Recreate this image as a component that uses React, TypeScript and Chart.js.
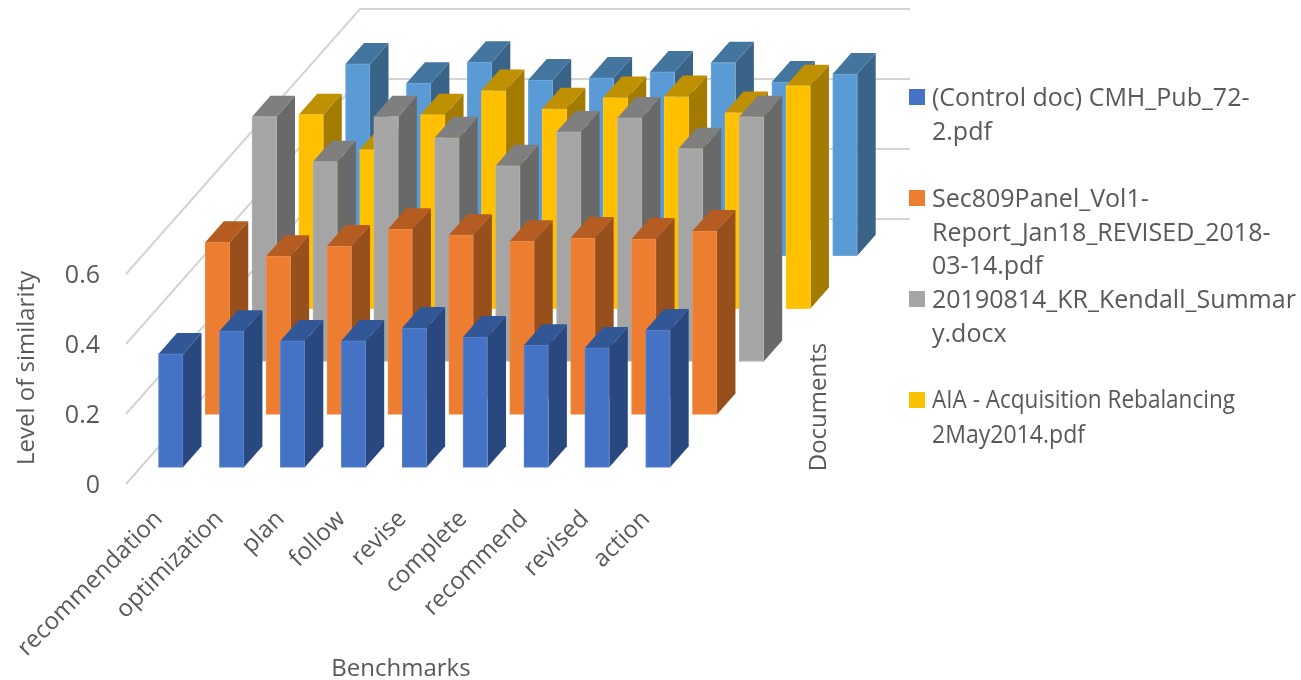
import React, { useEffect, useRef } from "react";
import { Chart, registerables } from "chart.js";

Chart.register(...registerables);

const categories = ["recommendation", "optimization", "plan", "follow", "revise", "complete", "recommend", "revised", "action"];
const controlDoc = [0.324, 0.389, 0.361, 0.361, 0.398, 0.372, 0.349, 0.341, 0.392];
const sec809Panel = [0.492, 0.452, 0.481, 0.529, 0.512, 0.495, 0.504, 0.501, 0.524];
const kendallSummary = [0.699, 0.571, 0.699, 0.639, 0.559, 0.656, 0.696, 0.608, 0.699];
const aiaRebalancing = [0.554, 0.454, 0.554, 0.623, 0.571, 0.603, 0.606, 0.56, 0.637];
const fifthDocument = [0.548, 0.493, 0.553, 0.502, 0.508, 0.525, 0.551, 0.496, 0.519];
const tickValues = [0, 0.2, 0.4, 0.6];

const seriesNames = [
  "(Control doc) CMH_Pub_72-2.pdf",
  "Sec809Panel_Vol1-Report_Jan18_REVISED_2018-03-14.pdf",
  "20190814_KR_Kendall_Summary.docx",
  "AIA - Acquisition Rebalancing 2May2014.pdf",
  "Other document",
];
const seriesValues = [controlDoc, sec809Panel, kendallSummary, aiaRebalancing, fifthDocument];
const frontColors = ["#4472C4", "#ED7D31", "#A5A5A5", "#FFC000", "#5B9BD5"];
const sideColors = ["#2A4880", "#97501C", "#696969", "#A37B00", "#3A6388"];
const topColors = ["#325796", "#B45C22", "#7F7F7F", "#BF9000", "#44759F"];
const edgeColors = ["#5F85CC", "#EF8C4A", "#B2B2B2", "#FFC926", "#72A9DB"];

const legendEntries = [
  { series: 0, swatchTop: 89, lines: ["(Control doc) CMH_Pub_72-", "2.pdf"], lineY: [99, 133], maxWidth: 330 },
  { series: 1, swatchTop: 190, lines: ["Sec809Panel_Vol1-", "Report_Jan18_REVISED_2018-", "03-14.pdf"], lineY: [200, 234, 267], maxWidth: 350 },
  { series: 2, swatchTop: 291, lines: ["20190814_KR_Kendall_Summar", "y.docx"], lineY: [301, 335], maxWidth: 365 },
  { series: 3, swatchTop: 392, lines: ["AIA - Acquisition Rebalancing", "2May2014.pdf"], lineY: [401, 436], maxWidth: 303, narrowSecondLine: 153 },
];

// Oblique projection used for the 3D look, in canvas pixels.
const WIDTH = 1301;
const HEIGHT = 680;
const AREA_LEFT = 126;
const AREA_RIGHT = 910;
const AREA_BOTTOM = 484;
const PX_PER_UNIT = 350;
const PX_PER_CATEGORY = 60.9;
const SERIES_DX = 46.75;
const SERIES_DY = 52.9;
const FIRST_BAR_CENTER = 170.75;
const FRONT_GAP = 16.7;
const BAR_WIDTH = 24.5;
const BAR_DX = 18.5;
const BAR_DY = 21;
const WALL_DX = 234;
const WALL_DY = 265;
const LABEL_TICK_SHIFT = -12;
const TEXT_COLOR = "#595959";
const FONT_FAMILY = '"Open Sans", sans-serif';

const xRange = (AREA_RIGHT - AREA_LEFT) / PX_PER_CATEGORY;
const yRange = AREA_BOTTOM / PX_PER_UNIT;

function depthScales() {
  const scales: Record<string, any> = {};
  seriesValues.forEach((_, k) => {
    const xMin = -(FIRST_BAR_CENTER + SERIES_DX * k - AREA_LEFT) / PX_PER_CATEGORY;
    const yMin = -(FRONT_GAP + SERIES_DY * k) / PX_PER_UNIT;
    scales[`depthX${k}`] = { type: "linear", axis: "x", display: false, offset: false, min: xMin, max: xMin + xRange };
    scales[`depthY${k}`] = { type: "linear", axis: "y", display: false, min: yMin, max: yMin + yRange };
  });
  return scales;
}

// Side walls, gridlines and side/top faces of the bars.
const prismPlugin = {
  id: "prism",
  beforeDatasetsDraw(chart: any) {
    const { ctx, chartArea, scales } = chart;
    ctx.save();
    ctx.strokeStyle = "#D4D4D4";
    ctx.lineWidth = 2;
    tickValues.forEach((v) => {
      const y = scales.y.getPixelForValue(v);
      ctx.beginPath();
      ctx.moveTo(chartArea.left, y);
      ctx.lineTo(chartArea.left + WALL_DX, y - WALL_DY);
      ctx.lineTo(chartArea.right, y - WALL_DY);
      ctx.stroke();
    });
    ctx.restore();
  },
  beforeDatasetDraw(chart: any, args: any) {
    const { ctx } = chart;
    const k = args.index;
    ctx.save();
    args.meta.data.forEach((bar: any) => {
      const left = bar.x - BAR_WIDTH / 2;
      const right = bar.x + BAR_WIDTH / 2;
      ctx.fillStyle = sideColors[k];
      ctx.beginPath();
      ctx.moveTo(right, bar.y);
      ctx.lineTo(right + BAR_DX, bar.y - BAR_DY);
      ctx.lineTo(right + BAR_DX, bar.base - BAR_DY);
      ctx.lineTo(right, bar.base);
      ctx.closePath();
      ctx.fill();
      ctx.fillStyle = topColors[k];
      ctx.beginPath();
      ctx.moveTo(left, bar.y);
      ctx.lineTo(left + BAR_DX, bar.y - BAR_DY);
      ctx.lineTo(right + BAR_DX, bar.y - BAR_DY);
      ctx.lineTo(right, bar.y);
      ctx.closePath();
      ctx.fill();
    });
    ctx.restore();
  },
};

// Axis titles and the wrapped legend on the right.
const annotationPlugin = {
  id: "annotations",
  afterDraw(chart: any) {
    const { ctx } = chart;
    ctx.save();
    ctx.fillStyle = TEXT_COLOR;
    ctx.textBaseline = "middle";
    ctx.textAlign = "center";
    ctx.font = `24px ${FONT_FAMILY}`;
    ctx.fillText("Benchmarks", 401, 669);
    const vertical = (text: string, x: number, y: number) => {
      ctx.save();
      ctx.translate(x, y);
      ctx.rotate(-Math.PI / 2);
      ctx.fillText(text, 0, 0);
      ctx.restore();
    };
    vertical("Level of similarity", 27, 368);
    vertical("Documents", 819, 407);

    ctx.textAlign = "left";
    ctx.font = `25px ${FONT_FAMILY}`;
    legendEntries.forEach((entry) => {
      ctx.fillStyle = frontColors[entry.series];
      ctx.fillRect(909, entry.swatchTop, 16, 16);
      ctx.fillStyle = TEXT_COLOR;
      entry.lines.forEach((line, i) => {
        const limit = i > 0 && entry.narrowSecondLine ? entry.narrowSecondLine : entry.maxWidth;
        ctx.fillText(line, 932, entry.lineY[i], limit);
      });
    });
    ctx.restore();
  },
};

export default function App() {
  const canvasRef = useRef<HTMLCanvasElement>(null);

  useEffect(() => {
    const labelMin = -(FIRST_BAR_CENTER + LABEL_TICK_SHIFT - AREA_LEFT) / PX_PER_CATEGORY;
    const chart = new Chart(canvasRef.current as HTMLCanvasElement, {
      type: "bar",
      data: {
        datasets: seriesValues.map((values, k) => ({
          label: seriesNames[k],
          data: values.map((v, i) => ({ x: i, y: v })),
          xAxisID: `depthX${k}`,
          yAxisID: `depthY${k}`,
          backgroundColor: frontColors[k],
          borderColor: edgeColors[k],
          borderWidth: 1,
          borderSkipped: false,
          barThickness: BAR_WIDTH,
          grouped: false,
          clip: false,
        })),
      } as any,
      options: {
        animation: false,
        responsive: false,
        events: [],
        layout: { padding: { top: 0, left: 0, right: WIDTH - AREA_RIGHT, bottom: 0 } },
        plugins: { legend: { display: false }, tooltip: { enabled: false }, title: { display: false } },
        scales: {
          x: {
            type: "linear",
            position: "bottom",
            offset: false,
            min: labelMin,
            max: labelMin + xRange,
            grid: { display: false },
            border: { display: false },
            afterBuildTicks: (scale: any) => {
              scale.ticks = categories.map((_, i) => ({ value: i }));
            },
            afterFit: (scale: any) => {
              scale.height = HEIGHT - AREA_BOTTOM;
              scale.paddingLeft = 0;
              scale.paddingRight = 0;
            },
            ticks: {
              autoSkip: false,
              maxRotation: 45,
              minRotation: 45,
              padding: 13,
              color: TEXT_COLOR,
              font: { family: FONT_FAMILY, size: 24 },
              callback: (value: any) => categories[value as number],
            },
          },
          y: {
            type: "linear",
            position: "left",
            min: 0,
            max: yRange,
            grid: { display: false, drawTicks: false },
            border: { display: false },
            afterBuildTicks: (scale: any) => {
              scale.ticks = tickValues.map((value) => ({ value }));
            },
            afterFit: (scale: any) => {
              scale.width = AREA_LEFT;
              scale.paddingTop = 0;
              scale.paddingBottom = 0;
            },
            ticks: {
              padding: 26,
              labelOffset: 2,
              color: TEXT_COLOR,
              font: { family: FONT_FAMILY, size: 25 },
              callback: (value: any) => String(value),
            },
          },
          ...depthScales(),
        },
      } as any,
      plugins: [prismPlugin, annotationPlugin],
    });
    return () => chart.destroy();
  }, []);

  return (
    <canvas
      ref={canvasRef}
      width={WIDTH}
      height={HEIGHT}
      style={{ position: "absolute", left: 0, top: 0, width: WIDTH, height: HEIGHT }}
    />
  );
}
